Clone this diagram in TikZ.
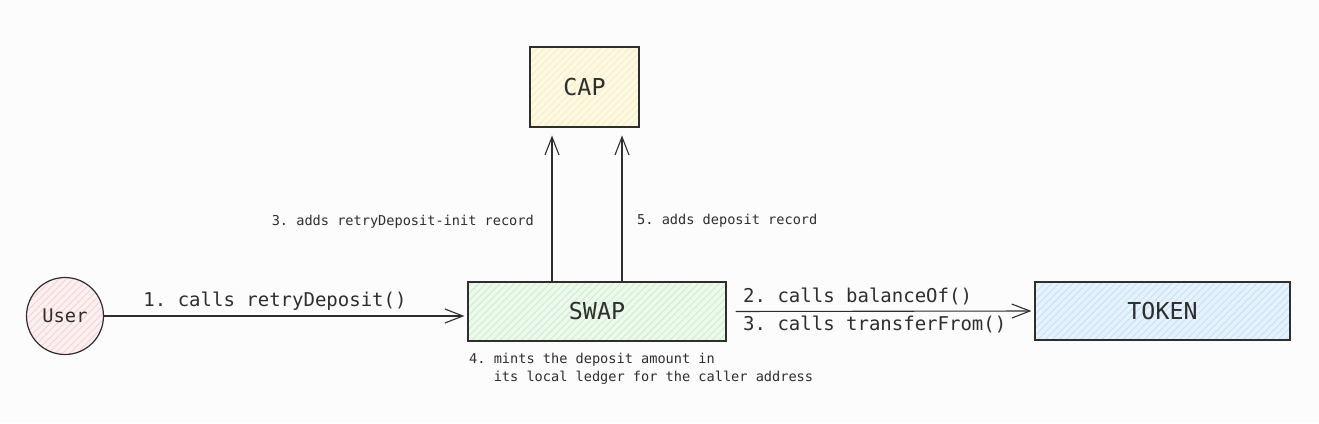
\documentclass[tikz,border=0pt]{standalone}
\usepackage{fontspec}
\setmonofont{DejaVu Sans Mono}
\usetikzlibrary{arrows.meta,patterns.meta}

\definecolor{bgcol}{HTML}{FCFCFC}
\definecolor{inkcol}{HTML}{2E2E2E}
\definecolor{capfill}{HTML}{FEF9E4}
\definecolor{caphatch}{HTML}{F8EDBC}
\definecolor{swapfill}{HTML}{EDF9EC}
\definecolor{swaphatch}{HTML}{CDEFCD}
\definecolor{tokenfill}{HTML}{E6F2FD}
\definecolor{tokenhatch}{HTML}{C6E1F9}
\definecolor{userfill}{HTML}{FDF0F0}
\definecolor{userhatch}{HTML}{F7D3D3}

\tikzset{
  sketch/.style 2 args={draw=inkcol, line width=1.2pt, preaction={fill=#1},
    pattern={Lines[angle=45,distance=5pt,line width=0.9pt]}, pattern color=#2},
  box/.style={rectangle, font=\ttfamily\fontsize{23.3}{26}\selectfont, text=inkcol},
  call/.style={draw=inkcol, line width=1.1pt, -{Straight Barb[length=18pt,width=14pt,line width=1.1pt]}},
  calltext/.style={font=\ttfamily\fontsize{19}{22}\selectfont, text=inkcol, inner sep=0pt},
  note/.style={font=\ttfamily\fontsize{13.6}{18}\selectfont, text=inkcol, inner sep=0pt, align=left}
}

\begin{document}
\begin{tikzpicture}[x=1pt,y=-1pt]
  \fill [bgcol] (0,0) rectangle (1319,423);
  \useasboundingbox (0,0) rectangle (1319,423);

  % the parties
  \node [box, sketch={capfill}{caphatch}, minimum width=109pt, minimum height=80pt] (cap) at (584.5,87) {CAP};
  \node [box, sketch={swapfill}{swaphatch}, minimum width=258pt, minimum height=59pt] (swap) at (597,311.5) {SWAP};
  \node [box, sketch={tokenfill}{tokenhatch}, minimum width=255pt, minimum height=58pt] (token) at (1162.5,311) {TOKEN};
  \node [circle, sketch={userfill}{userhatch}, minimum size=77pt, inner sep=0pt,
         font=\ttfamily\fontsize{18.7}{22}\selectfont, text=inkcol] (user) at (65,316) {User};

  % calls
  \draw [call, shorten >=3pt] (user.east) -- (user.east -| swap.west);
  \node [calltext] (retry) at (275,301) {1. calls retryDeposit()};

  \draw [call, shorten <=9pt, shorten >=3pt] (swap.east) -- (token.west);
  \node [calltext, right] (bal) at (743,296) {2. calls balanceOf()};
  \node [calltext, right] (xfer) at (743,324) {3. calls transferFrom()};

  \coordinate (upA) at ([xshift=-45pt]swap.north);
  \coordinate (upB) at ([xshift=25pt]swap.north);
  \draw [call, shorten >=8pt] (upA) -- (upA |- cap.south);
  \draw [call, shorten >=8pt] (upB) -- (upB |- cap.south);
  \node [note, left] (initrec) at (534,222) {3. adds retryDeposit-init record};
  \node [note, right] (deprec) at (637,221) {5. adds deposit record};

  \node [note, below right] (mint) at (469,353) {4. mints the deposit amount in\\\hphantom{4. }its local ledger for the caller address};
\end{tikzpicture}
\end{document}
